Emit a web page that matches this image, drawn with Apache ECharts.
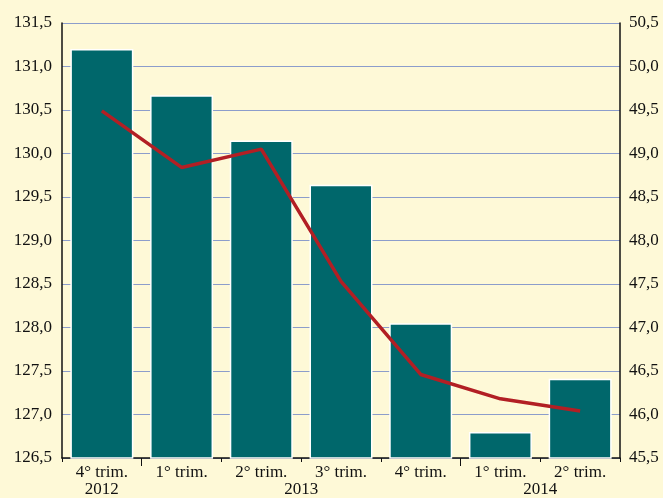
<!DOCTYPE html>
<html>
<head>
<meta charset="utf-8">
<script src="https://cdn.jsdelivr.net/npm/echarts@6/dist/echarts.min.js"></script>
<style>
html,body{margin:0;padding:0;background:#FEF9D7;}
#c{width:663px;height:498px;}
</style>
</head>
<body>
<div id="c"></div>
<script>
const quarters = ['4° trim.', '1° trim.', '2° trim.', '3° trim.', '4° trim.', '1° trim.', '2° trim.'];
const years = ['2012', '2013', '2014'];
const quartersPerYear = [1, 4, 2];
const barValues = [131.20, 130.67, 130.15, 129.64, 128.05, 126.80, 127.41];
const lineValues = [49.49, 48.84, 49.05, 47.53, 46.46, 46.18, 46.04];

// year axis in half-quarter slots: labels at the middle of each year's span
const yearSlots = new Array(quarters.length * 2 + 1).fill('');
const yearBoundaries = [];
let start = 0;
years.forEach((y, i) => {
  const n = quartersPerYear[i];
  yearSlots[start * 2 + n] = y;
  start += n;
  if (i < years.length - 1) yearBoundaries.push(start * 2);
});

const fmt = v => v.toFixed(1).replace('.', ',');
const font = 'Liberation Serif';
const txt = '#111111';
const chart = echarts.init(document.getElementById('c'), null, {renderer: 'canvas'});
chart.setOption({
  backgroundColor: '#FEF9D7',
  animation: false,
  grid: {left: 62, right: 43, top: 23, bottom: 39},
  xAxis: [
    {
      type: 'category',
      data: quarters,
      axisLine: {show: true, lineStyle: {color: '#111', width: 1.5}},
      axisTick: {show: true, interval: 0, length: 4, lineStyle: {color: '#111'}},
      axisLabel: {fontFamily: font, fontSize: 17, color: txt, margin: 6, interval: 0},
      splitLine: {show: false}
    },
    {
      type: 'category',
      position: 'bottom',
      boundaryGap: false,
      data: yearSlots,
      axisLine: {show: false},
      axisTick: {show: true, length: 8, interval: (i) => yearBoundaries.includes(i), lineStyle: {color: '#111'}},
      axisLabel: {fontFamily: font, fontSize: 17, color: txt, margin: 23, interval: 0},
      splitLine: {show: false}
    }
  ],
  yAxis: [
    {
      type: 'value', min: 126.5, max: 131.5, interval: 0.5,
      axisLine: {show: true, lineStyle: {color: '#111', width: 1.5}},
      axisTick: {show: false},
      axisLabel: {formatter: fmt, fontFamily: font, fontSize: 17, color: txt, margin: 10},
      splitLine: {show: true, lineStyle: {color: '#8C9DCB', width: 1.2}}
    },
    {
      type: 'value', min: 45.5, max: 50.5, interval: 0.5, position: 'right',
      axisLine: {show: true, lineStyle: {color: '#111', width: 1.5}},
      axisTick: {show: false},
      axisLabel: {formatter: fmt, fontFamily: font, fontSize: 17, color: txt, margin: 9},
      splitLine: {show: false}
    }
  ],
  series: [
    {
      type: 'bar',
      data: barValues,
      xAxisIndex: 0, yAxisIndex: 0,
      barWidth: '79%',
      itemStyle: {color: '#00676B', borderColor: '#ffffff', borderWidth: 1.5},
      z: 2
    },
    {
      type: 'line',
      data: lineValues,
      xAxisIndex: 0, yAxisIndex: 1,
      symbol: 'none',
      lineStyle: {color: '#B21F24', width: 3.5},
      z: 3
    }
  ]
});
</script>
</body>
</html>
